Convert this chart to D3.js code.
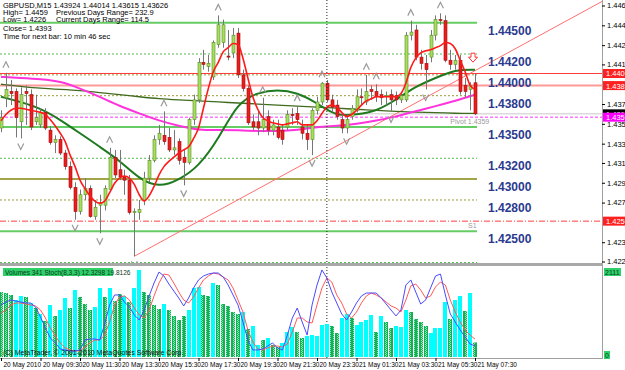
<!DOCTYPE html>
<html>
<head>
<meta charset="utf-8">
<script src="https://cdn.jsdelivr.net/npm/d3@7"></script>
<style>
  body { margin: 0; background: #fff; }
  svg { display: block; font-family: "Liberation Sans", Arial, sans-serif; }
</style>
</head>
<body>
<script>
// ---- data (GBPUSD M15) ----
// [open, high, low, close] per bar, 20 May 07:30 .. 21 May 07:30
const ohlc = [
  [1.4349,1.4366,1.4345,1.4359],[1.4378,1.4402,1.4369,1.4386],[1.4384,1.4395,1.4371,1.4382],[1.4384,1.4387,1.4340,1.4359],
  [1.4355,1.4388,1.4339,1.4381],[1.4384,1.4390,1.4352,1.4382],[1.4381,1.4386,1.4347,1.4350],[1.4355,1.4381,1.4352,1.4359],
  [1.4352,1.4368,1.4349,1.4364],[1.4364,1.4368,1.4347,1.4349],[1.4347,1.4351,1.4333,1.4335],[1.4335,1.4342,1.4325,1.4338],
  [1.4338,1.4341,1.4323,1.4325],[1.4325,1.4328,1.4309,1.4312],[1.4312,1.4317,1.4290,1.4292],[1.4292,1.4297,1.4261,1.4269],
  [1.4269,1.4290,1.4266,1.4285],[1.4285,1.4301,1.4280,1.4291],[1.4291,1.4294,1.4263,1.4264],[1.4264,1.4280,1.4261,1.4273],
  [1.4275,1.4285,1.4248,1.4277],[1.4275,1.4294,1.4270,1.4291],[1.4290,1.4330,1.4288,1.4321],[1.4321,1.4328,1.4301,1.4304],
  [1.4309,1.4328,1.4299,1.4302],[1.4302,1.4309,1.4285,1.4299],[1.4299,1.4304,1.4266,1.4268],[1.4268,1.4272,1.4226,1.4269],
  [1.4268,1.4280,1.4261,1.4271],[1.4280,1.4307,1.4275,1.4301],[1.4301,1.4323,1.4297,1.4318],[1.4318,1.4342,1.4316,1.4338],
  [1.4338,1.4352,1.4333,1.4344],[1.4342,1.4365,1.4333,1.4336],[1.4340,1.4349,1.4326,1.4328],[1.4328,1.4347,1.4323,1.4330],
  [1.4336,1.4339,1.4314,1.4318],[1.4321,1.4328,1.4294,1.4316],[1.4316,1.4359,1.4314,1.4357],[1.4357,1.4381,1.4352,1.4376],
  [1.4376,1.4416,1.4373,1.4412],[1.4412,1.4424,1.4405,1.4410],[1.4408,1.4419,1.4403,1.4411],[1.4398,1.4433,1.4395,1.4431],
  [1.4429,1.4457,1.4426,1.4448],[1.4431,1.4453,1.4426,1.4448],[1.4418,1.4443,1.4414,1.4417],[1.4421,1.4445,1.4416,1.4438],
  [1.4440,1.4445,1.4397,1.4400],[1.4400,1.4405,1.4384,1.4387],[1.4387,1.4390,1.4352,1.4354],[1.4355,1.4362,1.4347,1.4350],
  [1.4355,1.4366,1.4342,1.4349],[1.4349,1.4378,1.4345,1.4357],[1.4360,1.4366,1.4342,1.4347],[1.4347,1.4357,1.4342,1.4352],
  [1.4350,1.4357,1.4338,1.4340],[1.4347,1.4352,1.4333,1.4338],[1.4350,1.4366,1.4347,1.4362],[1.4362,1.4368,1.4352,1.4361],
  [1.4363,1.4370,1.4352,1.4357],[1.4350,1.4357,1.4338,1.4344],[1.4344,1.4352,1.4328,1.4338],[1.4338,1.4368,1.4323,1.4366],
  [1.4366,1.4379,1.4362,1.4374],[1.4374,1.4393,1.4371,1.4392],[1.4392,1.4395,1.4374,1.4376],[1.4376,1.4381,1.4364,1.4369],
  [1.4371,1.4376,1.4357,1.4360],[1.4357,1.4362,1.4344,1.4349],[1.4349,1.4362,1.4344,1.4357],[1.4360,1.4371,1.4357,1.4368],
  [1.4366,1.4386,1.4364,1.4379],[1.4379,1.4387,1.4371,1.4378],[1.4374,1.4400,1.4371,1.4384],[1.4386,1.4390,1.4376,1.4384],
  [1.4384,1.4391,1.4374,1.4379],[1.4381,1.4386,1.4371,1.4378],[1.4379,1.4384,1.4371,1.4380],[1.4381,1.4386,1.4365,1.4376],
  [1.4380,1.4384,1.4371,1.4376],[1.4376,1.4384,1.4373,1.4380],[1.4376,1.4441,1.4374,1.4438],[1.4438,1.4452,1.4433,1.4441],
  [1.4443,1.4448,1.4414,1.4417],[1.4417,1.4424,1.4405,1.4411],[1.4411,1.4419,1.4386,1.4405],[1.4417,1.4443,1.4412,1.4438],
  [1.4438,1.4457,1.4433,1.4453],[1.4453,1.4459,1.4448,1.4452],[1.4452,1.4457,1.4412,1.4414],[1.4414,1.4424,1.4405,1.4410],
  [1.4410,1.4419,1.4405,1.4414],[1.4414,1.4419,1.4381,1.4384],[1.4390,1.4397,1.4378,1.4384],[1.4386,1.4393,1.4366,1.4390],
  [1.43924,1.44014,1.43615,1.43626]
];

// fast MA (red), one value per bar
const maFast = [
  1.4356,1.4362,1.4366,1.4368,1.4368,1.4367,1.4366,1.4365,1.4364,1.4362,1.4357,1.4351,1.4344,1.4336,1.4323,1.4312,
  1.4299,1.4291,1.4284,1.4279,1.4277,1.4279,1.4287,1.4296,1.4301,1.4303,1.4301,1.4295,1.4285,1.4279,1.4284,1.4293,
  1.4304,1.4312,1.4317,1.4321,1.4325,1.4328,1.4331,1.4339,1.4349,1.4368,1.4387,1.4403,1.4412,1.4422,1.4426,1.4430,
  1.4429,1.4416,1.4397,1.4379,1.4367,1.4359,1.4356,1.4354,1.4353,1.4352,1.4353,1.4354,1.4355,1.4352,1.4352,1.4352,
  1.4356,1.4363,1.4369,1.4371,1.4369,1.4364,1.4360,1.4362,1.4366,1.4371,1.4375,1.4377,1.4379,1.4379,1.4379,1.4379,
  1.4379,1.4382,1.4392,1.4407,1.4416,1.4421,1.4423,1.4424,1.4426,1.4428,1.4431,1.4430,1.4425,1.4414,1.4403,1.4390,
  1.4386
];
// slower MAs, read every 4th bar (bars 0,4,...,96)
const maBars = d3.range(0, 97, 4);
const maMid = [1.4379,1.4374,1.4368,1.4357,1.4344,1.4331,1.4318,1.4300,1.4292,1.4299,1.4312,1.4338,1.4374,
  1.4383,1.4386,1.4383,1.4373,1.4360,1.4362,1.4365,1.4376,1.4389,1.4397,1.4405,1.4405];
const maSlow = [1.4398,1.4397,1.4396,1.4394,1.4387,1.4379,1.4370,1.4363,1.4356,1.4351,1.4347,1.4347,1.4347,
  1.4346,1.4346,1.4347,1.4350,1.4351,1.4353,1.4356,1.4360,1.4365,1.4370,1.4375,1.4381];
const maLong = [1.4391,1.4389,1.4387,1.4386,1.4385,1.4383,1.4381,1.4379,1.4377,1.4376,1.4375,1.4374,1.4373,
  1.4372,1.4371,1.4370,1.4369,1.4368,1.4367,1.4366,1.4365,1.4364,1.4364,1.4363,1.4363];

// fractal bars
const fractalUp = [1, 22, 33, 44, 53, 60, 65, 74, 76, 83, 89];
const fractalDown = [4, 15, 20, 27, 37, 63, 70, 79, 86];

// horizontal levels (drawn to last bar) and their labels
const levels = [1.4450, 1.4420, 1.4400, 1.4380, 1.4350, 1.4320, 1.4300, 1.4280, 1.4250, 1.4220];
const levelKinds = ['major', 'minor', 'mid', 'mid', 'major', 'minor', 'midSolid', 'mid', 'major', 'minor'];
const levelLabels = ['1.44500', '1.44200', '1.44000', '1.43800', '1.43500', '1.43200', '1.43000', '1.42800', '1.42500', ''];

// full width lines with price boxes
const markPrices = [1.44013, 1.43897, 1.43626, 1.43594, 1.42597];
const markKinds = ['red', 'pink', 'bid', 'pivot', 's1'];

// trend line anchors [bar, price]
const trend = [[27, 1.4226], [96, 1.4404]];

// price axis tick labels
const priceTicks = [1.44665, 1.44475, 1.44285, 1.44100, 1.43720, 1.43530, 1.43340, 1.43155, 1.42965, 1.42775, 1.42395, 1.42210];

// time axis
const timeTicks = d3.range(0, 97, 8);
const timeLabels = ['20 May 2010', '20 May 09:30', '20 May 11:30', '20 May 13:30', '20 May 15:30', '20 May 17:30',
  '20 May 19:30', '20 May 21:30', '20 May 23:30', '21 May 01:30', '21 May 03:30', '21 May 05:30', '21 May 07:30'];
const daySplit = 66;

// volumes (1 = cyan bar, 0 = green bar)
const volume = [1525,1501,1455,1337,1431,1408,1267,1150,1009,845,1220,962,1103,1384,1150,1572,
  1408,1243,1103,1173,1619,1408,1619,1314,1478,1431,1290,1619,2041,1525,1455,1220,
  1126,1243,1103,962,868,962,1103,1619,1642,1455,1431,1736,1689,1243,1196,1056,
  1009,1056,657,727,282,399,446,282,235,328,587,704,587,446,493,516,
  493,751,774,727,563,915,1009,915,751,821,868,985,587,962,821,680,
  727,704,1103,1056,892,821,727,563,680,680,1290,892,1337,1431,1079,1501,
  341];
const volUp = [0,0,0,1,1,0,1,0,1,0,1,0,1,1,0,1,0,0,0,1,1,0,1,0,0,1,0,1,1,0,0,0,
  0,1,0,0,0,0,1,1,1,0,0,1,0,0,0,0,0,1,0,1,1,0,1,0,0,1,1,1,0,0,1,1,
  1,1,1,0,0,1,1,0,1,1,1,1,0,1,0,0,1,1,1,0,0,0,0,1,1,1,1,0,1,1,0,1,0];

// stochastic %K (blue) and %D (red)
const stochK = [57.8,61.1,63.3,62.2,61.1,60.0,60.0,55.6,44.4,32.2,21.1,15.6,8.9,7.8,6.7,6.7,
  7.8,18.9,20.0,20.0,18.9,36.7,57.8,68.9,68.9,61.1,55.6,46.7,41.1,52.2,67.8,82.2,
  94.4,90.0,81.1,73.3,65.6,56.7,65.6,76.7,85.6,90.0,92.2,93.3,93.3,88.9,80.0,68.9,
  57.8,38.9,18.9,7.8,7.8,8.9,12.2,15.6,10.0,7.8,24.4,43.3,54.4,38.9,24.4,57.8,
  80.0,96.7,87.8,72.2,60.0,47.8,41.1,50.0,60.0,67.8,71.1,71.1,71.1,65.6,58.9,52.2,
  45.6,52.2,80.0,85.6,72.2,58.9,63.3,76.7,90.0,92.2,68.9,47.8,38.9,30.0,22.2,14.4,
  12.33];
const stochD = [48.9,52.2,57.8,60.0,60.0,58.9,57.8,56.7,52.2,43.3,32.2,23.3,15.6,10.0,7.8,6.7,
  6.7,11.1,15.6,18.9,18.9,24.4,38.9,57.8,66.7,67.8,63.3,54.4,46.7,43.3,52.2,67.8,
  82.2,92.2,91.1,82.2,72.2,63.3,60.0,66.7,76.7,85.6,90.0,93.3,92.2,88.9,85.6,76.7,
  63.3,50.0,30.0,16.7,8.9,7.8,10.0,12.2,12.2,11.1,14.4,27.8,43.3,43.3,38.9,37.8,
  57.8,76.7,87.8,83.3,68.9,60.0,47.8,43.3,50.0,60.0,67.8,71.1,68.9,65.6,61.1,56.7,
  54.4,50.0,63.3,78.9,81.1,74.4,65.6,67.8,77.8,83.3,80.0,63.3,50.0,38.9,30.0,24.4,
  19.81];

const headerRows = [
  ['GBPUSD,M15  1.43924 1.44014 1.43615 1.43626'],
  ['High= 1.4459', 'Previous Days Range= 232.9'],
  ['Low= 1.4226', 'Current Days Range= 114.5'],
  ['Close= 1.4393'],
  ['Time for next bar: 10 min 46 sec'],
];

// ---- drawing ----
const W = 625, H = 370, axisX = 602, mainBottom = 263, subTop = 266, subBottom = 358;
const font = '"Liberation Sans", Arial, sans-serif';

const svg = d3.select('body').append('svg').attr('width', W).attr('height', H);
const defs = svg.append('defs');
defs.append('clipPath').attr('id', 'mainClip')
  .append('rect').attr('x', 0).attr('y', 0).attr('width', axisX).attr('height', mainBottom);
defs.append('clipPath').attr('id', 'subClip')
  .append('rect').attr('x', 0).attr('y', subTop).attr('width', axisX).attr('height', subBottom - subTop);
const pat = defs.append('pattern').attr('id', 'volDots')
  .attr('width', 4).attr('height', 2).attr('patternUnits', 'userSpaceOnUse');
pat.append('rect').attr('width', 4).attr('height', 2).attr('fill', '#14b058');
pat.append('rect').attr('x', 1).attr('y', 0).attr('width', 1).attr('height', 1).attr('fill', '#8cebb0');
pat.append('rect').attr('x', 2).attr('y', 1).attr('width', 1).attr('height', 1).attr('fill', '#8cebb0');

const x = d3.scaleLinear().domain([0, 96]).range([1, 475]);
const y = d3.scaleLinear().domain([1.4221, 1.44665]).range([261.5, 5.5]);
const vy = d3.scaleLinear().domain([0, 2111]).range([357, 267]);
const sy = d3.scaleLinear().domain([0, 100]).range([357, 267]);

const main = svg.append('g').attr('clip-path', 'url(#mainClip)');

// levels
const levelStyle = {
  major: { c: '#66cc66', w: 2, d: null },
  minor: { c: '#55bb55', w: 1, d: '2,2' },
  mid: { c: '#9a9a3a', w: 1, d: '2,2' },
  midSolid: { c: '#a3a34a', w: 2, d: null },
};
main.append('g').selectAll('line').data(levels).join('line')
  .attr('x1', 0).attr('x2', x(96) + 2)
  .attr('y1', (d) => y(d)).attr('y2', (d) => y(d))
  .attr('stroke', (d, i) => levelStyle[levelKinds[i]].c)
  .attr('stroke-width', (d, i) => levelStyle[levelKinds[i]].w)
  .attr('stroke-dasharray', (d, i) => levelStyle[levelKinds[i]].d);

const markStyle = {
  red: { c: '#ff3b3b', w: 1, d: null, box: '#ff2020' },
  pink: { c: '#ff9a9a', w: 2, d: null, box: '#ff2020' },
  bid: { c: '#c8c8c8', w: 1, d: null, box: '#000' },
  pivot: { c: '#ff33ff', w: 1, d: '3,2', box: '#ff00ff' },
  s1: { c: '#ff4040', w: 1, d: '6,2,1,2', box: '#ff2020' },
};
main.append('g').selectAll('line').data(markPrices).join('line')
  .attr('x1', 0).attr('x2', axisX)
  .attr('y1', (d) => y(d)).attr('y2', (d) => y(d))
  .attr('stroke', (d, i) => markStyle[markKinds[i]].c)
  .attr('stroke-width', (d, i) => markStyle[markKinds[i]].w)
  .attr('stroke-dasharray', (d, i) => markStyle[markKinds[i]].d);

// day separator
svg.append('line')
  .attr('x1', x(daySplit)).attr('x2', x(daySplit)).attr('y1', 0).attr('y2', subBottom)
  .attr('stroke', '#222').attr('stroke-dasharray', '1,2');

// trend line, extended to the right edge
const slope = (trend[1][1] - trend[0][1]) / (trend[1][0] - trend[0][0]);
const endBar = x.invert(axisX);
main.append('line')
  .attr('x1', x(trend[0][0])).attr('y1', y(trend[0][1]))
  .attr('x2', x(endBar)).attr('y2', y(trend[0][1] + slope * (endBar - trend[0][0])))
  .attr('stroke', '#ff6f6f').attr('stroke-width', 1);

// moving averages
const lineFast = d3.line().x((d, i) => x(i)).y((d) => y(d)).curve(d3.curveMonotoneX);
const lineSampled = d3.line().x((d, i) => x(maBars[i])).y((d) => y(d)).curve(d3.curveBasis);
main.append('path').attr('d', lineSampled(maLong)).attr('fill', 'none').attr('stroke', '#3f6b1f').attr('stroke-width', 1.3);
main.append('path').attr('d', lineSampled(maSlow)).attr('fill', 'none').attr('stroke', '#ff33dd').attr('stroke-width', 2);
main.append('path').attr('d', lineSampled(maMid)).attr('fill', 'none').attr('stroke', '#1e7a1e').attr('stroke-width', 2);

// candles
const candle = main.append('g').selectAll('g').data(ohlc).join('g')
  .attr('transform', (d, i) => `translate(${Math.round(x(i)) + 0.5},0)`);
candle.append('line')
  .attr('y1', (d) => y(d[1])).attr('y2', (d) => y(d[2]))
  .attr('stroke', '#777');
candle.append('rect')
  .attr('x', -1.5).attr('width', 3)
  .attr('y', (d) => y(Math.max(d[0], d[3])))
  .attr('height', (d) => Math.max(1, Math.abs(y(d[0]) - y(d[3]))))
  .attr('fill', (d) => (d[3] >= d[0] ? '#a6e05a' : '#ee1c1c'))
  .attr('stroke', (d) => (d[3] >= d[0] ? '#5a8a2a' : '#9a1010'))
  .attr('stroke-width', 0.6);

main.append('path').attr('d', lineFast(maFast)).attr('fill', 'none').attr('stroke', '#ff1a1a').attr('stroke-width', 1.6);

// fractals
const fr = main.append('g').attr('fill', 'none').attr('stroke', '#9a9a9a').attr('stroke-width', 1.2);
fr.selectAll('.up').data(fractalUp).join('path').attr('class', 'up')
  .attr('d', (i) => `M${x(i) - 3},${y(ohlc[i][1]) - 5}L${x(i)},${y(ohlc[i][1]) - 11}L${x(i) + 3},${y(ohlc[i][1]) - 5}`);
fr.selectAll('.dn').data(fractalDown).join('path').attr('class', 'dn')
  .attr('d', (i) => `M${x(i) - 3},${y(ohlc[i][2]) + 5}L${x(i)},${y(ohlc[i][2]) + 11}L${x(i) + 3},${y(ohlc[i][2]) + 5}`);

// signal arrow
const ax = x(96) - 2, ay = y(1.4416);
main.append('path')
  .attr('d', `M${ax - 2},${ay - 5}h4v4h2.5l-4.5,5l-4.5,-5h2.5z`)
  .attr('fill', '#fff').attr('stroke', '#ff3030');

// level labels
svg.append('g').selectAll('text').data(levels).join('text')
  .attr('x', 488).attr('y', (d) => y(d) + 12)
  .attr('font-size', 12).attr('font-weight', 'bold').attr('fill', '#2a3a8f')
  .text((d, i) => levelLabels[i]);

// pivot texts
svg.append('text').attr('x', x(91)).attr('y', y(markPrices[3]) + 7)
  .attr('font-size', 7).attr('fill', '#9a9a9a').text('Pivot  1.4359');
svg.append('text').attr('x', x(95) - 2).attr('y', y(markPrices[4]) + 7)
  .attr('font-size', 7).attr('fill', '#9a9a9a').text('S1');

// header
const hdr = svg.append('g').attr('font-size', 7.5).attr('fill', '#000');
const rowY = [7.5, 15, 22, 31, 39];
headerRows.forEach((row, r) => {
  row.forEach((t, c) => {
    hdr.append('text').attr('x', c === 0 ? 3 : 56).attr('y', rowY[r]).text(t);
  });
});

// price axis
svg.append('line').attr('x1', axisX + 0.5).attr('x2', axisX + 0.5).attr('y1', 0).attr('y2', subBottom)
  .attr('stroke', '#a0a0a0');
const pAxis = svg.append('g').attr('transform', `translate(${axisX},0)`)
  .call(d3.axisRight(y).tickValues(priceTicks).tickFormat(d3.format('.5f')).tickSize(3).tickPadding(2));
pAxis.select('.domain').remove();
pAxis.selectAll('text').attr('font-size', 7.5).attr('font-family', font);

const boxes = svg.append('g').selectAll('g').data(markPrices).join('g')
  .attr('transform', (d) => `translate(${axisX + 1},${y(d)})`);
boxes.append('rect').attr('x', 0).attr('y', -4.5).attr('width', 24).attr('height', 9)
  .attr('fill', (d, i) => markStyle[markKinds[i]].box);
boxes.append('text').attr('x', 3).attr('y', 3).attr('font-size', 7.5).attr('fill', '#fff')
  .text((d) => d3.format('.5f')(d));

// panel separator
svg.append('rect').attr('x', 0).attr('y', mainBottom).attr('width', axisX + 1).attr('height', 3).attr('fill', '#a8a8a8');

// sub window: volumes + stochastic
const sub = svg.append('g').attr('clip-path', 'url(#subClip)');
sub.selectAll('rect').data(volume).join('rect')
  .attr('x', (d, i) => Math.round(x(i)) - 2).attr('width', 4)
  .attr('y', (d) => vy(d)).attr('height', (d) => vy(0) - vy(d))
  .attr('fill', (d, i) => (volUp[i] ? '#00ffff' : 'url(#volDots)'));
const sLine = d3.line().x((d, i) => x(i)).y((d) => sy(d));
sub.append('path').attr('d', sLine(stochD)).attr('fill', 'none').attr('stroke', '#ff5a5a');
sub.append('path').attr('d', sLine(stochK)).attr('fill', 'none').attr('stroke', '#4a4aff');

svg.append('rect').attr('x', 3).attr('y', 268).attr('width', 110).attr('height', 8).attr('fill', '#2fd06a');
svg.append('text').attr('x', 5).attr('y', 274.5).attr('font-size', 6.5).attr('fill', '#0a3a1a')
  .text('Volumes 341   Stoch(8,3,3) 12.3298 19.8126');

svg.append('text').attr('x', 3).attr('y', 355).attr('font-size', 7).attr('fill', '#111')
  .text('(C) MetaTrader, © 2001-2010 MetaQuotes Software Corp.');

[[2111, 268], [0, 351]].forEach(([v, ty]) => {
  svg.append('rect').attr('x', axisX + 2).attr('y', ty).attr('width', v ? 17 : 6).attr('height', 8).attr('fill', '#2fd06a');
  svg.append('text').attr('x', axisX + 3).attr('y', ty + 7).attr('font-size', 7).attr('fill', '#0a3a1a').text(v);
});

// time axis
svg.append('line').attr('x1', 0).attr('x2', axisX + 1).attr('y1', subBottom + 0.5).attr('y2', subBottom + 0.5)
  .attr('stroke', '#a0a0a0');
const tAxis = svg.append('g').attr('transform', `translate(0,${subBottom})`)
  .call(d3.axisBottom(x).tickValues(timeTicks).tickFormat((d, i) => timeLabels[i]).tickSize(3).tickPadding(1));
tAxis.select('.domain').remove();
tAxis.selectAll('text').attr('font-size', 6.5).attr('text-anchor', 'start').attr('dx', 2)
  .attr('font-family', font);
</script>
</body>
</html>
